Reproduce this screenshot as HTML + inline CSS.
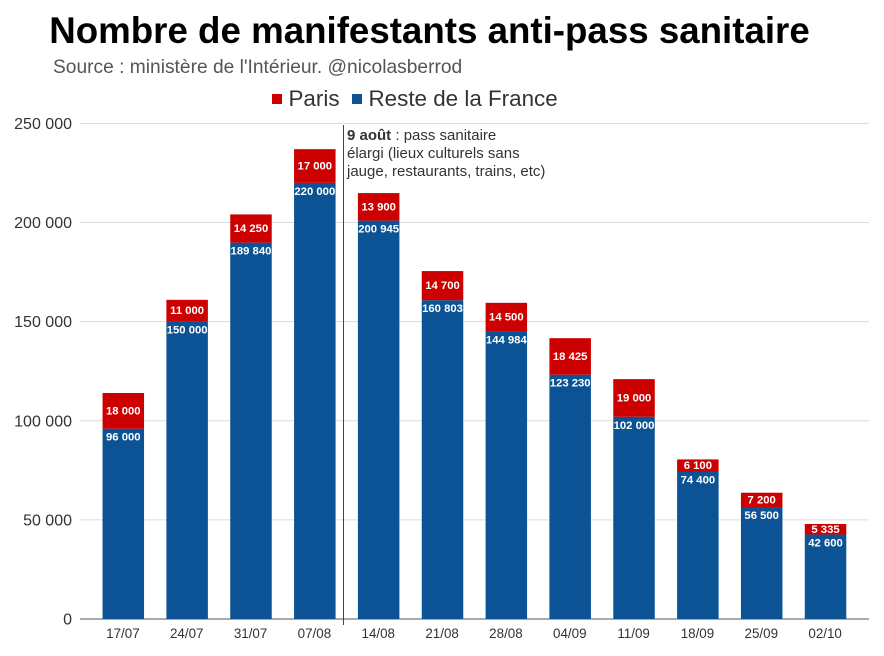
<!DOCTYPE html>
<html lang="fr">
<head>
<meta charset="utf-8">
<title>Nombre de manifestants anti-pass sanitaire</title>
<style>
html,body{margin:0;padding:0;background:#fff;width:884px;height:656px;overflow:hidden}
svg{display:block;font-family:"Liberation Sans",sans-serif}
</style>
</head>
<body>
<svg id="chart" width="884" height="656" viewBox="0 0 884 656" xmlns="http://www.w3.org/2000/svg">
  <text x="429.5" y="43" text-anchor="middle" font-size="36.7" font-weight="700" fill="#000">Nombre de manifestants anti-pass sanitaire</text>
  <text x="53" y="73" font-size="19.2" fill="#555">Source : ministère de l'Intérieur. @nicolasberrod</text>
  <g>
    <rect x="272" y="94" width="10" height="10" fill="#cc0000"/>
    <text x="288.5" y="106" font-size="22.4" fill="#333">Paris</text>
    <rect x="352" y="94" width="10" height="10" fill="#0b5394"/>
    <text x="368.5" y="106" font-size="22.4" fill="#333">Reste de la France</text>
  </g>
  <g id="grid"></g>
  <g id="bars"></g>
  <g id="xaxis"></g>
  <line x1="343.5" x2="343.5" y1="125" y2="625" stroke="#444" stroke-width="1"/>
  <g font-size="15" fill="#333">
    <text x="347" y="140"><tspan font-weight="700">9 août</tspan> : pass sanitaire</text>
    <text x="347" y="158">élargi (lieux culturels sans</text>
    <text x="347" y="176">jauge, restaurants, trains, etc)</text>
  </g>
</svg>
<script>
const categories = ["17/07","24/07","31/07","07/08","14/08","21/08","28/08","04/09","11/09","18/09","25/09","02/10"];
const resteValues = [96000,150000,189840,220000,200945,160803,144984,123230,102000,74400,56500,42600];
const parisValues = [18000,11000,14250,17000,13900,14700,14500,18425,19000,6100,7200,5335];
const yTicks = [0,50000,100000,150000,200000,250000];

const NS = "http://www.w3.org/2000/svg";
function make(parent, tag, attrs, text) {
  const el = document.createElementNS(NS, tag);
  for (const k in attrs) el.setAttribute(k, attrs[k]);
  if (text !== undefined) el.textContent = text;
  parent.appendChild(el);
  return el;
}
function yScale(v) { return 619 - v * (495.6 / 250000); }
function xScale(i) { return 123.3 + i * 63.84; }
function fmt(v) { return String(v).replace(/\B(?=(\d{3})+$)/g, " "); }
const barW = 41.5;
const grid = document.getElementById("grid");
const bars = document.getElementById("bars");
const xaxis = document.getElementById("xaxis");

yTicks.forEach(function (t) {
  const line = make(grid, "line", {x1: 80, x2: 869, y1: yScale(t), y2: yScale(t), stroke: t === 0 ? "#555" : "#dcdcdc", "stroke-width": 1});
  
  
  const label = make(grid, "text", {x: 72, y: yScale(t) + 5.5, "text-anchor": "end", "font-size": 16, fill: "#333"}, fmt(t));
  
  
});

categories.forEach(function (c, i) {
  const cx = xScale(i);
  const blueTop = yScale(resteValues[i]);
  const redTop = yScale(resteValues[i] + parisValues[i]);
  const blue = make(bars, "rect", {x: cx - barW / 2, y: blueTop, width: barW, height: yScale(0) - blueTop, fill: "#0b5394"});
  
  
  const red = make(bars, "rect", {x: cx - barW / 2, y: redTop, width: barW, height: blueTop - redTop, fill: "#cc0000"});
  
  
  const redLabel = make(bars, "text", {x: cx, y: (redTop + blueTop) / 2 + 3.5, "text-anchor": "middle", "font-size": 11.3, "font-weight": 700, fill: "#fff"}, fmt(parisValues[i]));
  
  
  const blueLabel = make(bars, "text", {x: cx, y: blueTop + 12, "text-anchor": "middle", "font-size": 11.3, "font-weight": 700, fill: "#fff"}, fmt(resteValues[i]));
  
  
  const tick = make(xaxis, "text", {x: cx - 0.4, y: 638, "text-anchor": "middle", "font-size": 13.4, fill: "#333"}, c);
  
  
});
</script>
</body>
</html>
